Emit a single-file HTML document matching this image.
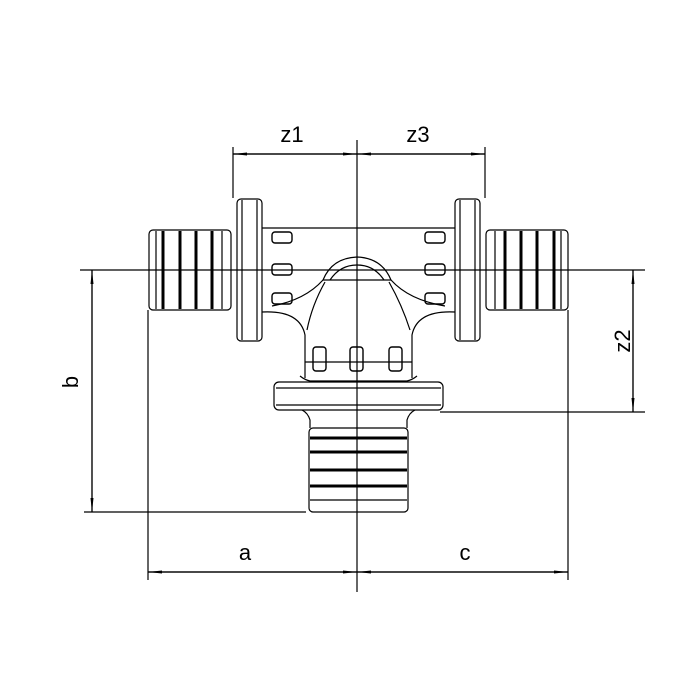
<!DOCTYPE html>
<html><head><style>html,body{margin:0;padding:0;background:#fff}svg{display:block}</style></head><body>
<svg width="700" height="700" viewBox="0 0 700 700" xmlns="http://www.w3.org/2000/svg" font-family="Liberation Sans, sans-serif">
<defs>
<marker id="ar" markerWidth="14" markerHeight="6" refX="14" refY="3" orient="auto" markerUnits="userSpaceOnUse"><path d="M0,1.5 L14,3 L0,4.5Z" fill="#000"/></marker>
</defs>
<g stroke="#000" fill="none" stroke-width="1.2">
<line x1="357" y1="140" x2="357" y2="592"/>
<line x1="80" y1="270" x2="645" y2="270"/>
<line x1="233" y1="147" x2="233" y2="198"/>
<line x1="485" y1="147" x2="485" y2="198"/>
<line x1="148" y1="310" x2="148" y2="580"/>
<line x1="568" y1="310" x2="568" y2="580"/>
<line x1="84" y1="512" x2="306" y2="512"/>
<line x1="440" y1="412" x2="645" y2="412"/>
<line x1="357" y1="154" x2="233" y2="154" marker-end="url(#ar)"/>
<line x1="233" y1="154" x2="357" y2="154" marker-end="url(#ar)"/>
<line x1="357" y1="154" x2="485" y2="154" marker-end="url(#ar)"/>
<line x1="485" y1="154" x2="357" y2="154" marker-end="url(#ar)"/>
<line x1="148" y1="572" x2="357" y2="572" marker-end="url(#ar)"/>
<line x1="357" y1="572" x2="148" y2="572" marker-end="url(#ar)"/>
<line x1="357" y1="572" x2="568" y2="572" marker-end="url(#ar)"/>
<line x1="568" y1="572" x2="357" y2="572" marker-end="url(#ar)"/>
<line x1="92" y1="270" x2="92" y2="512" marker-end="url(#ar)"/>
<line x1="92" y1="512" x2="92" y2="270" marker-end="url(#ar)"/>
<line x1="633" y1="270" x2="633" y2="412" marker-end="url(#ar)"/>
<line x1="633" y1="412" x2="633" y2="270" marker-end="url(#ar)"/>

<rect x="149" y="230" width="82" height="80" rx="4"/>
<g stroke-width="3">
<line x1="163" y1="231" x2="163" y2="309"/>
<line x1="180" y1="231" x2="180" y2="309"/>
<line x1="196" y1="231" x2="196" y2="309"/>
<line x1="212" y1="231" x2="212" y2="309"/>
</g>
<line x1="156" y1="231" x2="156" y2="309"/>
<line x1="222" y1="231" x2="222" y2="309"/>
<rect x="237" y="199" width="25" height="142" rx="4"/>
<line x1="242" y1="200" x2="242" y2="340"/>
<line x1="257" y1="200" x2="257" y2="340"/>
<rect x="486" y="230" width="82" height="80" rx="4"/>
<g stroke-width="3">
<line x1="505" y1="231" x2="505" y2="309"/>
<line x1="521" y1="231" x2="521" y2="309"/>
<line x1="537" y1="231" x2="537" y2="309"/>
<line x1="554" y1="231" x2="554" y2="309"/>
</g>
<line x1="495" y1="231" x2="495" y2="309"/>
<line x1="561" y1="231" x2="561" y2="309"/>
<rect x="455" y="199" width="25" height="142" rx="4"/>
<line x1="460" y1="200" x2="460" y2="340"/>
<line x1="475" y1="200" x2="475" y2="340"/>
<line x1="262" y1="228" x2="455" y2="228"/>
<path d="M262,312 Q300,310 305,335 L305,378"/>
<path d="M455,312 Q417,310 412,335 L412,378"/>
<path d="M272,306 Q305,300 323,280 Q332,258 357,257 Q382,258 391,280 Q409,300 445,306"/>
<path d="M330,280 Q340,265 357,265 Q374,265 384,280"/>
<line x1="323" y1="280" x2="391" y2="280"/>
<path d="M325,282 Q312,305 307,330"/>
<path d="M389,282 Q402,305 410,330"/>
<g stroke-width="1.4">
<rect x="272" y="232" width="20" height="11" rx="3"/>
<rect x="272" y="264" width="20" height="11" rx="3"/>
<rect x="272" y="293" width="20" height="11" rx="3"/>
<rect x="425" y="232" width="20" height="11" rx="3"/>
<rect x="425" y="264" width="20" height="11" rx="3"/>
<rect x="425" y="293" width="20" height="11" rx="3"/>
<rect x="313" y="347" width="13" height="24" rx="3"/>
<rect x="350" y="347" width="13" height="24" rx="3"/>
<rect x="389" y="347" width="13" height="24" rx="3"/>
</g>
<line x1="305" y1="362" x2="412" y2="362"/>
<path d="M300,376 Q305,380 310,381 L407,381 Q412,380 417,376"/>
<rect x="274" y="382" width="169" height="28" rx="5"/>
<line x1="276" y1="388" x2="441" y2="388"/>
<line x1="276" y1="405" x2="441" y2="405"/>
<path d="M302,410 Q308,413 310,420 L310,428 M415,410 Q409,413 407,420 L407,428"/>
<rect x="309" y="428" width="99" height="84" rx="4"/>
<g stroke-width="3">
<line x1="310" y1="438" x2="407" y2="438"/>
<line x1="310" y1="452" x2="407" y2="452"/>
<line x1="310" y1="470" x2="407" y2="470"/>
<line x1="310" y1="486" x2="407" y2="486"/>
</g>
<line x1="310" y1="500" x2="407" y2="500"/>
</g>
<g font-size="22" fill="#000" text-anchor="middle">
<text x="292" y="142">z1</text>
<text x="418" y="142">z3</text>
<text x="245" y="560">a</text>
<text x="465" y="560">c</text>
<text transform="translate(78,382) rotate(-90)">b</text>
<text transform="translate(630,341) rotate(-90)">z2</text>
</g>
</svg>
</body></html>
